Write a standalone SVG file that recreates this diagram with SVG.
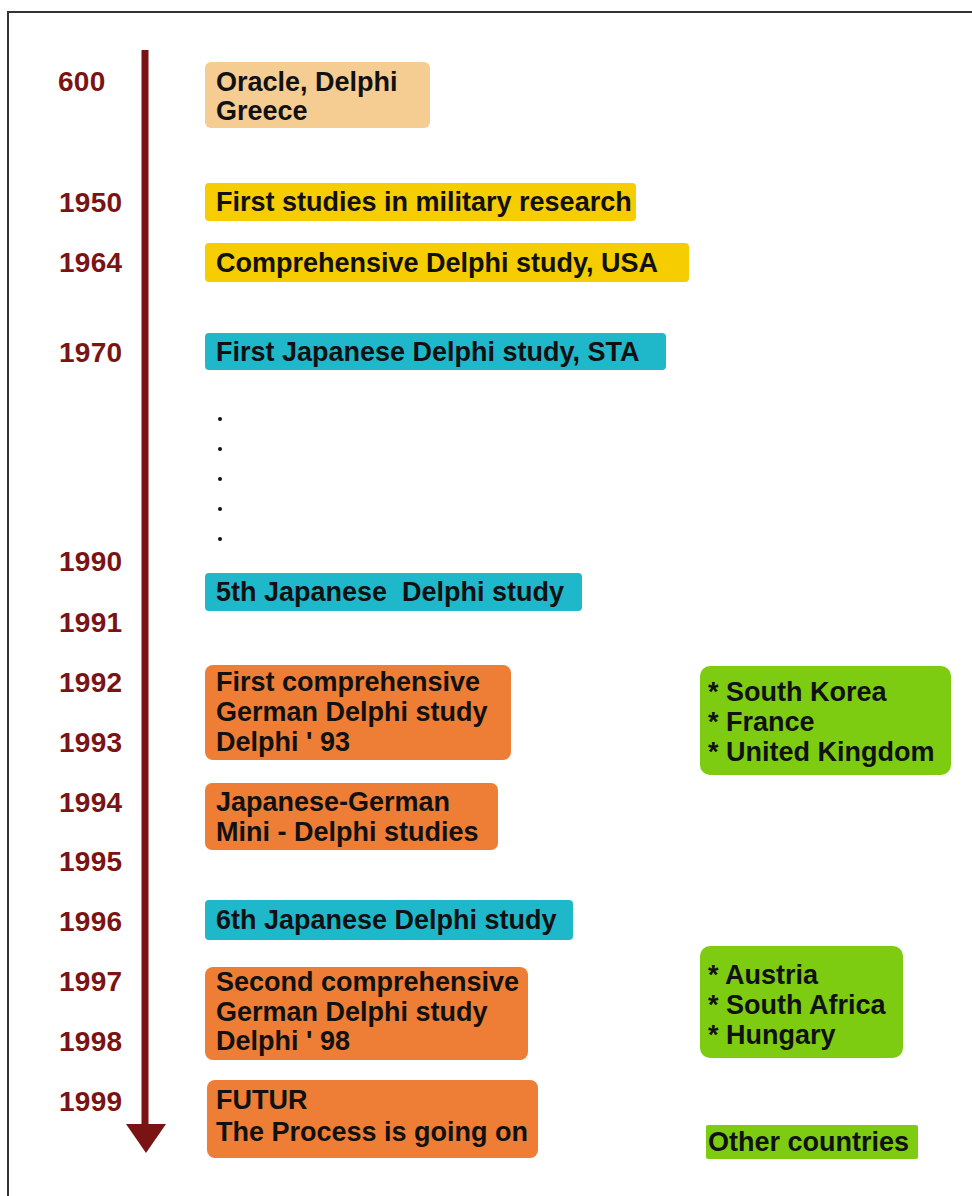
<svg xmlns="http://www.w3.org/2000/svg" width="972" height="1196" viewBox="0 0 972 1196">
<style>
.yr{font-family:"Liberation Sans",Arial,sans-serif;font-size:28px;font-weight:bold;fill:#7a1414;letter-spacing:0.3px}
.t{font-family:"Liberation Sans",Arial,sans-serif;font-size:27px;font-weight:bold;fill:#111}
.tan{fill:#f5cc92}
.gold{fill:#f5cd00}
.teal{fill:#1fb8cb}
.org{fill:#ee7d35}
.grn{fill:#7dcc12}
</style>
<rect x="8" y="12" width="972" height="1200" fill="#fff" stroke="#333" stroke-width="2"/>
<g id="timeline">
<line x1="145" y1="50" x2="145" y2="1128" stroke="#7a1414" stroke-width="7"/>
<polygon points="126,1124 166,1124 146,1153" fill="#7a1414"/>
</g>
<g id="years">
<text class="yr" x="58" y="91">600</text>
<text class="yr" x="59" y="212">1950</text>
<text class="yr" x="59" y="272">1964</text>
<text class="yr" x="59" y="362">1970</text>
<text class="yr" x="59" y="571">1990</text>
<text class="yr" x="59" y="632">1991</text>
<text class="yr" x="59" y="692">1992</text>
<text class="yr" x="59" y="752">1993</text>
<text class="yr" x="59" y="812">1994</text>
<text class="yr" x="59" y="871">1995</text>
<text class="yr" x="59" y="931">1996</text>
<text class="yr" x="59" y="991">1997</text>
<text class="yr" x="59" y="1051">1998</text>
<text class="yr" x="59" y="1111">1999</text>
</g>
<g id="n-oracle"><rect class="tan" x="205" y="62" width="225" height="66" rx="6"/>
<text class="t" x="216" y="91">Oracle, Delphi</text><text class="t" x="216" y="120">Greece</text></g>
<g id="n-1950"><rect class="gold" x="205" y="183" width="431" height="38" rx="4"/>
<text class="t" x="216" y="211">First studies in military research</text></g>
<g id="n-1964"><rect class="gold" x="205" y="243" width="484" height="39" rx="4"/>
<text class="t" x="216" y="272">Comprehensive Delphi study, USA</text></g>
<g id="n-1970"><rect class="teal" x="205" y="333" width="461" height="37" rx="4"/>
<text class="t" x="216" y="361">First Japanese Delphi study, STA</text></g>
<g id="dots" fill="#111">
<circle cx="220" cy="419" r="2"/><circle cx="220" cy="449" r="2"/><circle cx="220" cy="479" r="2"/><circle cx="220" cy="509" r="2"/><circle cx="220" cy="539" r="2"/>
</g>
<g id="n-1990"><rect class="teal" x="205" y="573" width="377" height="38" rx="4"/>
<text class="t" x="216" y="601" xml:space="preserve">5th Japanese  Delphi study</text></g>
<g id="n-1992"><rect class="org" x="205" y="665" width="306" height="95" rx="8"/>
<text class="t" x="216" y="691">First comprehensive</text><text class="t" x="216" y="721">German Delphi study</text><text class="t" x="216" y="751">Delphi ' 93</text></g>
<g id="n-1994"><rect class="org" x="205" y="783" width="293" height="67" rx="7"/>
<text class="t" x="216" y="811">Japanese-German</text><text class="t" x="216" y="841">Mini - Delphi studies</text></g>
<g id="n-1996"><rect class="teal" x="205" y="900" width="368" height="40" rx="4"/>
<text class="t" x="216" y="929">6th Japanese Delphi study</text></g>
<g id="n-1997"><rect class="org" x="205" y="967" width="323" height="93" rx="8"/>
<text class="t" x="216" y="991">Second comprehensive</text><text class="t" x="216" y="1021">German Delphi study</text><text class="t" x="216" y="1050">Delphi ' 98</text></g>
<g id="n-1999"><rect class="org" x="207" y="1080" width="331" height="78" rx="8"/>
<text class="t" x="216" y="1109">FUTUR</text><text class="t" x="216" y="1141">The Process is going on</text></g>
<g id="n-countries1"><rect class="grn" x="700" y="666" width="251" height="109" rx="10"/>
<text class="t" x="708" y="701">* South Korea</text><text class="t" x="708" y="731">* France</text><text class="t" x="708" y="761">* United Kingdom</text></g>
<g id="n-countries2"><rect class="grn" x="700" y="946" width="203" height="112" rx="10"/>
<text class="t" x="708" y="984">* Austria</text><text class="t" x="708" y="1014">* South Africa</text><text class="t" x="708" y="1044">* Hungary</text></g>
<g id="n-other"><rect class="grn" x="706" y="1125" width="212" height="34" rx="2"/>
<text class="t" x="708" y="1151">Other countries</text></g>
</svg>
